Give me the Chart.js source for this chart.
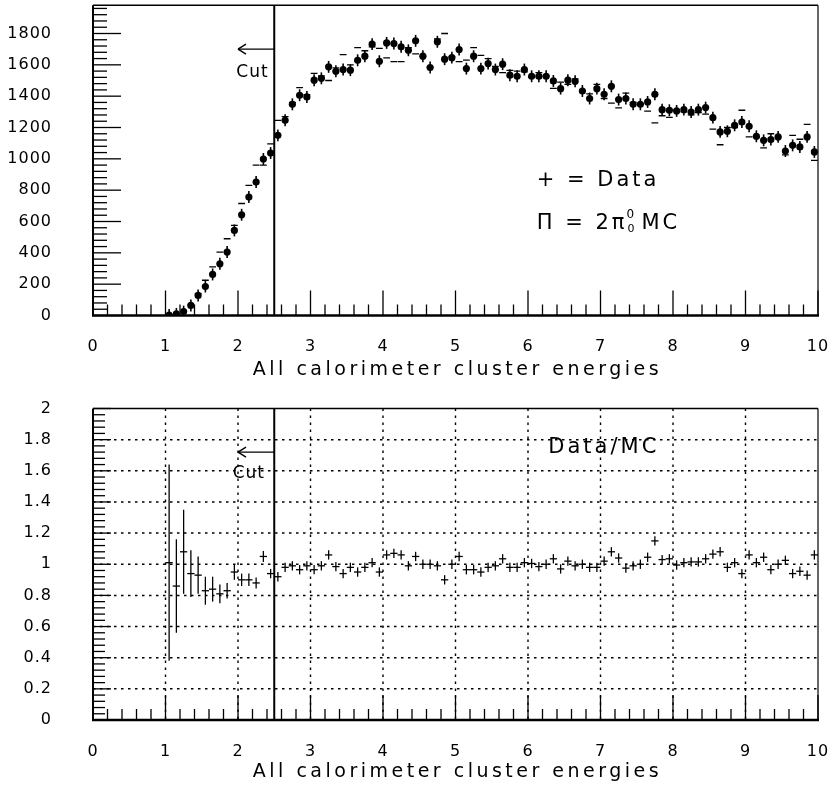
<!DOCTYPE html>
<html>
<head>
<meta charset="utf-8">
<script src="https://cdn.jsdelivr.net/npm/chart.js@4.4.1/dist/chart.umd.min.js"></script>
<style>
  html, body { margin: 0; padding: 0; background: #fff; }
  #wrap { position: relative; width: 833px; height: 796px; }
  canvas { position: absolute; left: 0; }
  #topChart { top: 0; }
  #ratioChart { top: 396px; }
</style>
</head>
<body>
<div id="wrap">
  <canvas id="topChart" width="833" height="396"></canvas>
  <canvas id="ratioChart" width="833" height="400"></canvas>
</div>
<script>
// bin centres (GeV), 0.1 wide bins
const energy = [
  1.05, 1.15, 1.25, 1.35, 1.45, 1.55, 1.65, 1.75, 1.85, 1.95,
  2.05, 2.15, 2.25, 2.35, 2.45, 2.55, 2.65, 2.75, 2.85, 2.95,
  3.05, 3.15, 3.25, 3.35, 3.45, 3.55, 3.65, 3.75, 3.85, 3.95,
  4.05, 4.15, 4.25, 4.35, 4.45, 4.55, 4.65, 4.75, 4.85, 4.95,
  5.05, 5.15, 5.25, 5.35, 5.45, 5.55, 5.65, 5.75, 5.85, 5.95,
  6.05, 6.15, 6.25, 6.35, 6.45, 6.55, 6.65, 6.75, 6.85, 6.95,
  7.05, 7.15, 7.25, 7.35, 7.45, 7.55, 7.65, 7.75, 7.85, 7.95,
  8.05, 8.15, 8.25, 8.35, 8.45, 8.55, 8.65, 8.75, 8.85, 8.95,
  9.05, 9.15, 9.25, 9.35, 9.45, 9.55, 9.65, 9.75, 9.85, 9.95
];

// data entries per bin
const dataCounts = [
  3, 10, 25, 64, 128, 185, 262, 330, 405, 543,
  643, 756, 852, 999, 1037, 1150, 1246, 1348, 1406, 1395,
  1502, 1514, 1587, 1559, 1570, 1566, 1629, 1655, 1732, 1623,
  1740, 1736, 1715, 1693, 1753, 1655, 1583, 1747, 1636, 1646,
  1698, 1576, 1655, 1576, 1608, 1570, 1604, 1534, 1527, 1570,
  1527, 1527, 1527, 1497, 1448, 1502, 1495, 1433, 1385, 1448,
  1412, 1463, 1378, 1385, 1348, 1348, 1363, 1412, 1314, 1310,
  1306, 1314, 1299, 1314, 1327, 1263, 1172, 1176, 1214, 1235,
  1208, 1144, 1118, 1123, 1140, 1050, 1086, 1076, 1140, 1044
];

// 2pi0 Monte Carlo histogram
const mcCounts = [
  3, 12, 25, 68, 140, 225, 310, 405, 490, 575,
  715, 830, 960, 960, 1095, 1245, 1270, 1360, 1455, 1410,
  1545, 1530, 1500, 1580, 1665, 1600, 1710, 1690, 1715, 1705,
  1645, 1620, 1620, 1710, 1670, 1655, 1585, 1765, 1800, 1650,
  1620, 1630, 1710, 1660, 1640, 1590, 1550, 1565, 1560, 1555,
  1520, 1550, 1530, 1450, 1490, 1475, 1510, 1435, 1415, 1475,
  1385, 1355, 1325, 1420, 1360, 1350, 1305, 1230, 1275, 1265,
  1310, 1300, 1280, 1295, 1285, 1190, 1090, 1200, 1200, 1310,
  1140, 1135, 1070, 1160, 1140, 1025, 1150, 1125, 1220, 990
];

// Data/MC
const ratio = [
  1.01, 0.86, 1.08, 0.94, 0.93, 0.83, 0.84, 0.81, 0.83, 0.95,
  0.90, 0.90, 0.88, 1.05, 0.94, 0.92, 0.98, 0.99, 0.965, 0.99,
  0.965, 0.99, 1.06, 0.985, 0.94, 0.98, 0.95, 0.98, 1.01, 0.95,
  1.06, 1.07, 1.06, 0.99, 1.05, 1.0, 1.0, 0.99, 0.90, 1.0,
  1.05, 0.965, 0.965, 0.95, 0.98, 0.99, 1.035, 0.98, 0.98, 1.01,
  1.005, 0.985, 1.0, 1.035, 0.97, 1.02, 0.99, 1.0, 0.98, 0.98,
  1.02, 1.08, 1.04, 0.975, 0.99, 1.0, 1.045, 1.15, 1.03, 1.035,
  0.995, 1.01, 1.015, 1.015, 1.035, 1.065, 1.08, 0.98, 1.01, 0.94,
  1.06, 1.01, 1.045, 0.965, 1.0, 1.025, 0.94, 0.955, 0.93, 1.06
];
// errors on the first (low statistics) bins, the rest use RATIO_ERR
const ratioErrLow = [0.63, 0.30, 0.27, 0.15, 0.12, 0.09, 0.08, 0.06, 0.05, 0.05,
                     0.04, 0.04, 0.035, 0.035, 0.03, 0.03];
const RATIO_ERR = 0.03;
const DATA_ERR = 38;
const BIN_HALF = 0.05;

const xTickLabels = [0, 1, 2, 3, 4, 5, 6, 7, 8, 9, 10];
const topYTicks = [0, 200, 400, 600, 800, 1000, 1200, 1400, 1600, 1800];
const ratioYTicks = [0, 0.2, 0.4, 0.6, 0.8, 1, 1.2, 1.4, 1.6, 1.8, 2];
const CUT = 2.5;
const X_TITLE = 'All calorimeter cluster energies';

const FONT = "'DejaVu Sans', sans-serif";

function line(ctx, x1, y1, x2, y2, w) {
  ctx.lineWidth = w;
  ctx.beginPath();
  ctx.moveTo(x1, y1);
  ctx.lineTo(x2, y2);
  ctx.stroke();
}

function txt(ctx, s, x, y, size, align, spacing) {
  ctx.font = size + 'px ' + FONT;
  ctx.letterSpacing = (spacing || 0) + 'px';
  ctx.textAlign = align || 'left';
  ctx.textBaseline = 'middle';
  ctx.fillStyle = '#000';
  ctx.fillText(s, x, y);
  ctx.letterSpacing = '0px';
}

// frame, inward ticks, cut line + arrow, axis title
function decorate(chart, o) {
  const { ctx, chartArea: a, scales: { x, y } } = chart;
  ctx.save();
  ctx.strokeStyle = '#000';
  ctx.setLineDash([]);
  for (let i = 0; i <= 50; i++) {
    const px = x.getPixelForValue(i * 0.2);
    const major = i % 5 === 0;
    line(ctx, px, a.bottom, px, a.bottom - (major ? 25 : 11), 1.3);
  }
  for (let i = 0; i <= o.yMinorCount; i++) {
    const py = y.getPixelForValue(i * o.yMinor);
    const major = i % 5 === 0;
    line(ctx, a.left, py, a.left + (major ? o.yMajorLen : o.yMinorLen), py, 1.3);
  }
  line(ctx, a.left - 1, a.bottom, a.right + 1, a.bottom, 2.6);
  line(ctx, a.left, a.top, a.left, a.bottom, 2);
  line(ctx, a.left, a.top, a.right, a.top, 1.6);
  line(ctx, a.right, a.top, a.right, a.bottom, 1.2);

  // cut
  const cx = x.getPixelForValue(CUT);
  line(ctx, cx, a.top, cx, a.bottom, 2);
  const ay = y.getPixelForValue(o.arrowY);
  const ax = x.getPixelForValue(o.arrowTo);
  line(ctx, cx, ay, ax, ay, 1.4);
  line(ctx, ax, ay, ax + 8, ay - 5, 1.4);
  line(ctx, ax, ay, ax + 8, ay + 5, 1.4);
  txt(ctx, 'Cut', x.getPixelForValue(o.cutLabelX), y.getPixelForValue(o.cutLabelY), 17, 'center', 1);

  txt(ctx, X_TITLE, (a.left + a.right) / 2 + 2, a.bottom + o.titleGap, 19, 'center', 3.5);
  ctx.restore();
}

const wideTicks = {
  id: 'wideTicks',
  beforeDraw(chart) { chart.ctx.letterSpacing = '1px'; },
  beforeDatasetsDraw(chart) { chart.ctx.letterSpacing = '0px'; }
};

function scalesFor(yMax, yTicks, fmt, xHeight) {
  return {
    x: {
      type: 'linear', min: 0, max: 10,
      afterBuildTicks: s => { s.ticks = xTickLabels.map(v => ({ value: v })); },
      afterFit: s => { s.height = xHeight; s.paddingLeft = 0; s.paddingRight = 0; },
      grid: { display: false },
      border: { display: false },
      ticks: { padding: 14, color: '#000', font: { family: FONT, size: 16 }, maxRotation: 0, autoSkip: false }
    },
    y: {
      type: 'linear', min: 0, max: yMax,
      afterBuildTicks: s => { s.ticks = yTicks.map(v => ({ value: v })); },
      afterFit: s => { s.width = 93; s.paddingTop = 0; s.paddingBottom = 0; },
      grid: { display: false },
      border: { display: false },
      ticks: { padding: 33, color: '#000', font: { family: FONT, size: 16 }, autoSkip: false, callback: fmt }
    }
  };
}

// ---- top panel: energy spectrum
const topPlugin = {
  id: 'topDeco',
  beforeDatasetsDraw(chart) {
    const { ctx, scales: { x, y } } = chart;
    ctx.save();
    ctx.strokeStyle = '#000';
    energy.forEach((e, i) => {
      const px = x.getPixelForValue(e);
      line(ctx, px, y.getPixelForValue(Math.max(0, dataCounts[i] - DATA_ERR)), px,
           y.getPixelForValue(dataCounts[i] + DATA_ERR), 1.6);
    });
    ctx.restore();
  },
  afterDatasetsDraw(chart) {
    decorate(chart, { yMinor: 40, yMinorCount: 49, yMajorLen: 28, yMinorLen: 14,
                      arrowY: 1700, arrowTo: 2.0, cutLabelX: 2.2, cutLabelY: 1550, titleGap: 55 });
    const { ctx, scales: { x, y } } = chart;
    const lx = x.getPixelForValue(6.12);
    const l1 = y.getPixelForValue(860);
    const l2 = y.getPixelForValue(590);
    ctx.save();
    txt(ctx, '+ = Data', lx, l1, 21, 'left', 3);
    txt(ctx, 'Π = 2π', lx, l2, 21, 'left', 3);
    ctx.font = '21px ' + FONT;
    ctx.letterSpacing = '3px';
    const w = ctx.measureText('Π = 2π').width;
    ctx.letterSpacing = '0px';
    txt(ctx, '0', lx + w - 1, l2 - 8, 12, 'left', 0);
    txt(ctx, '0', lx + w, l2 + 6, 11, 'left', 0);
    txt(ctx, 'MC', lx + w + 14, l2, 21, 'left', 3);
    ctx.restore();
  }
};

new Chart(document.getElementById('topChart'), {
  type: 'scatter',
  data: {
    datasets: [
      {
        // MC histogram: one short horizontal stroke per bin
        data: energy.map((e, i) => ({ x: e, y: mcCounts[i] })),
        pointStyle: 'line',
        pointRadius: 3.4,
        borderColor: '#000',
        borderWidth: 1.3
      },
      {
        data: energy.map((e, i) => ({ x: e, y: dataCounts[i] })),
        pointRadius: 3.6,
        pointBackgroundColor: '#000',
        pointBorderWidth: 0
      }
    ]
  },
  options: {
    responsive: false,
    animation: false,
    layout: { padding: { left: 0, right: 15, top: 5, bottom: 0 } },
    plugins: { legend: { display: false }, tooltip: { enabled: false } },
    scales: scalesFor(1980, topYTicks, v => String(v), 80.5)
  },
  plugins: [wideTicks, topPlugin]
});

// ---- bottom panel: Data/MC
const ratioPlugin = {
  id: 'ratioDeco',
  beforeDatasetsDraw(chart) {
    const { ctx, chartArea: a, scales: { x, y } } = chart;
    ctx.save();
    ctx.strokeStyle = '#000';
    ctx.setLineDash([2.5, 4.5]);
    for (let v = 1; v <= 9; v++) {
      const px = x.getPixelForValue(v);
      line(ctx, px, a.top, px, a.bottom, 1.4);
    }
    for (let i = 1; i <= 9; i++) {
      const py = y.getPixelForValue(i * 0.2);
      line(ctx, a.left, py, a.right, py, 1.5);
    }
    ctx.setLineDash([]);
    energy.forEach((e, i) => {
      const err = i < ratioErrLow.length ? ratioErrLow[i] : RATIO_ERR;
      const py = y.getPixelForValue(ratio[i]);
      const px = x.getPixelForValue(e);
      line(ctx, x.getPixelForValue(e - BIN_HALF), py, x.getPixelForValue(e + BIN_HALF), py, 1.3);
      line(ctx, px, y.getPixelForValue(ratio[i] - err), px, y.getPixelForValue(ratio[i] + err), 1.3);
    });
    ctx.restore();
  },
  afterDatasetsDraw(chart) {
    decorate(chart, { yMinor: 0.04, yMinorCount: 50, yMajorLen: 18, yMinorLen: 12,
                      arrowY: 1.72, arrowTo: 2.0, cutLabelX: 2.15, cutLabelY: 1.58, titleGap: 52 });
    const { ctx, scales: { x, y } } = chart;
    ctx.save();
    txt(ctx, 'Data/MC', x.getPixelForValue(6.28), y.getPixelForValue(1.75), 21, 'left', 3);
    ctx.restore();
  }
};

new Chart(document.getElementById('ratioChart'), {
  type: 'scatter',
  data: {
    datasets: [{
      data: energy.map((e, i) => ({ x: e, y: ratio[i] })),
      pointRadius: 0
    }]
  },
  options: {
    responsive: false,
    animation: false,
    layout: { padding: { left: 0, right: 15, top: 12.5, bottom: 0 } },
    plugins: { legend: { display: false }, tooltip: { enabled: false } },
    scales: scalesFor(2, ratioYTicks, v => String(Math.round(v * 10) / 10), 76)
  },
  plugins: [wideTicks, ratioPlugin]
});
</script>
</body>
</html>
